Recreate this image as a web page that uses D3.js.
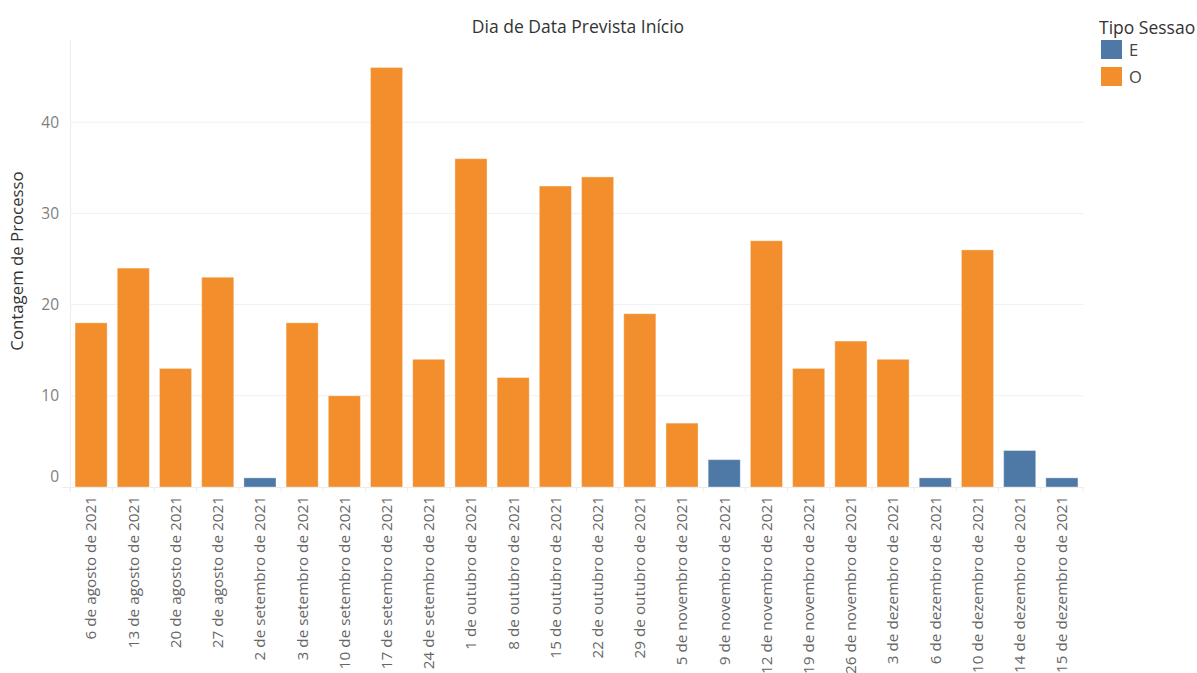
<!DOCTYPE html>
<html><head><meta charset="utf-8">
<script src="https://cdn.jsdelivr.net/npm/d3@7"></script>
<style>body{margin:0;background:#fff}svg{display:block}</style>
</head><body><svg id="c" width="1197" height="673"></svg>
<script>
const categories = ["6 de agosto de 2021","13 de agosto de 2021","20 de agosto de 2021","27 de agosto de 2021","2 de setembro de 2021","3 de setembro de 2021","10 de setembro de 2021","17 de setembro de 2021","24 de setembro de 2021","1 de outubro de 2021","8 de outubro de 2021","15 de outubro de 2021","22 de outubro de 2021","29 de outubro de 2021","5 de novembro de 2021","9 de novembro de 2021","12 de novembro de 2021","19 de novembro de 2021","26 de novembro de 2021","3 de dezembro de 2021","6 de dezembro de 2021","10 de dezembro de 2021","14 de dezembro de 2021","15 de dezembro de 2021"];
const values = [18,24,13,23,1,18,10,46,14,36,12,33,34,19,7,3,27,13,16,14,1,26,4,1];
const types = ["O","O","O","O","E","O","O","O","O","O","O","O","O","O","O","E","O","O","O","O","E","O","E","E"];
const legendKeys = ["E","O"];
const yTicks = [0,10,20,30,40];

(function(){
const svg = d3.select("#c");
const font = "'Open Sans', Lato, sans-serif";
const pL = 70, pR = 1083, pT = 40, pB = 487;
const x = d3.scaleBand().domain(categories).range([pL, pR]).paddingInner(0.24).paddingOuter(0.12);
const y = d3.scaleLinear().domain([0, 49]).range([pB, pB - 49*9.12]);
const color = d3.scaleOrdinal().domain(legendKeys).range(["#4e79a7","#f28e2b"]);

svg.append("g").selectAll("line").data(yTicks.filter(d=>d>0)).join("line")
  .attr("x1", pL).attr("x2", pR).attr("y1", d=>y(d)).attr("y2", d=>y(d))
  .attr("stroke", "#f0f0f0").attr("stroke-width", 1);
svg.append("line").attr("x1", pL+0.5).attr("x2", pL+0.5).attr("y1", pT).attr("y2", pB+4)
  .attr("stroke", "#ececec");
svg.append("g").selectAll("text").data(yTicks).join("text")
  .attr("x", 59).attr("y", d => d===0 ? y(d)-10 : y(d))
  .attr("dy", "0.35em").attr("text-anchor", "end")
  .attr("font-family", font).attr("font-size", 15.5).attr("fill", "#808080")
  .text(d=>d);
svg.append("g").selectAll("rect").data(categories).join("rect")
  .attr("x", d=>x(d)).attr("width", x.bandwidth())
  .attr("y", (d,i)=>y(values[i])).attr("height", (d,i)=>y(0)-y(values[i]))
  .attr("fill", (d,i)=>color(types[i]))
  .attr("stroke", "#ffffff").attr("stroke-opacity", 0.35).attr("stroke-width", 1);
svg.append("line").attr("x1", 62).attr("x2", pR).attr("y1", pB+0.5).attr("y2", pB+0.5)
  .attr("stroke", "#ececec");
const edges = categories.map(c => x(c) - x.step()*x.paddingInner()/2);
edges.push(pR);
svg.append("g").selectAll("line").data(edges).join("line")
  .attr("x1", d=>d).attr("x2", d=>d).attr("y1", pB).attr("y2", pB+5)
  .attr("stroke", "#ececec");
svg.append("g").selectAll("text").data(categories).join("text")
  .attr("transform", d => `translate(${x(d)+x.bandwidth()/2},496) rotate(-90)`)
  .attr("dy", "0.35em").attr("text-anchor", "end")
  .attr("font-family", font).attr("font-size", 15.3).attr("fill", "#666")
  .text(d=>d);
svg.append("text").attr("x", 578).attr("y", 27).attr("dy", "0.35em").attr("text-anchor", "middle")
  .attr("font-family", font).attr("font-size", 17.5).attr("fill", "#333").text("Dia de Data Prevista Início");
svg.append("text").attr("transform", "translate(17,261) rotate(-90)").attr("dy", "0.35em").attr("text-anchor", "middle")
  .attr("font-family", font).attr("font-size", 16.8).attr("fill", "#333").text("Contagem de Processo");
svg.append("text").attr("x", 1099).attr("y", 28).attr("dy", "0.35em")
  .attr("font-family", font).attr("font-size", 17.5).attr("fill", "#333").text("Tipo Sessao");
const lg = svg.append("g").selectAll("g").data(legendKeys).join("g")
  .attr("transform", (d,i)=>`translate(1101,${40+i*27})`);
lg.append("rect").attr("width", 21).attr("height", 19).attr("fill", d=>color(d));
lg.append("text").attr("x", 28).attr("y", 10).attr("dy", "0.35em")
  .attr("font-family", font).attr("font-size", 16.5).attr("fill", "#444").text(d=>d);
})();
</script></body></html>
